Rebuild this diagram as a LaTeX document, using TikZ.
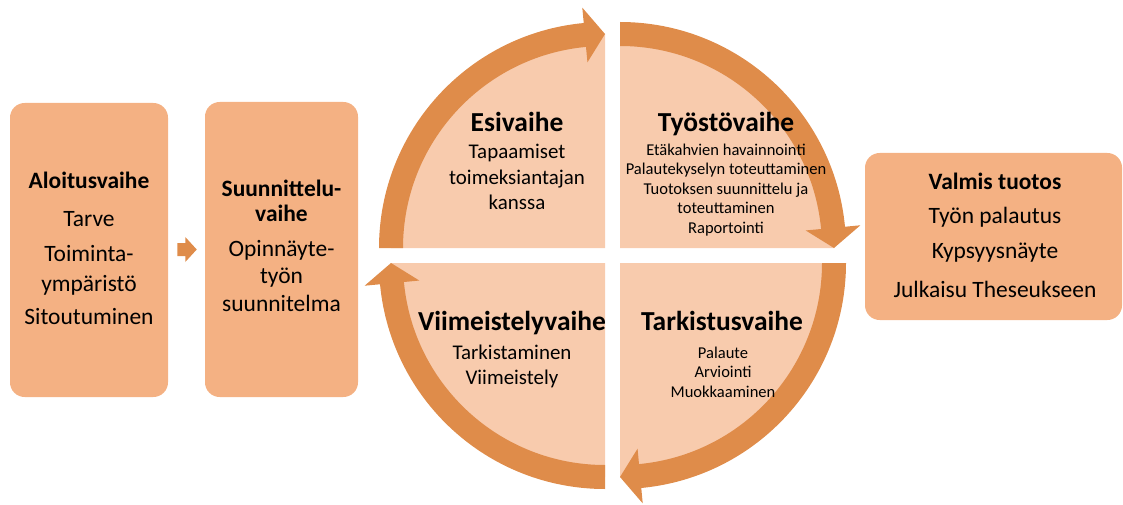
\documentclass[tikz,border=0pt]{standalone}
\usepackage{fontspec}
\setmainfont{Carlito}
\usetikzlibrary{calc}
\definecolor{bandc}{HTML}{DF8C4A}
\definecolor{wedgec}{HTML}{F8CBAD}
\definecolor{boxc}{HTML}{F4B183}
\newcommand\bandarrow[2]{%
  \pgfmathsetmacro\bandbase{#2-84.6}%
  \pgfmathsetmacro\bandtip{#2-90}%
  \fill[bandfill] ($(#1)+(#2:169.5pt)$) arc[start angle=#2, end angle=\bandbase, radius=169.5pt]
    -- ($(#1)+(\bandbase:181.1pt)$) -- ($(#1)+(\bandtip:160.5pt)$)
    -- ($(#1)+(\bandbase:139.9pt)$) -- ($(#1)+(\bandbase:151.5pt)$)
    arc[start angle=\bandbase, end angle=#2, radius=151.5pt] -- cycle;}
\begin{document}
\begin{tikzpicture}[x=0.75pt,y=0.75pt,
  bandfill/.style={fill=bandc},
  wedgefill/.style={fill=wedgec},
  phasebox/.style={fill=boxc, rounded corners=11pt, inner sep=0pt},
  boxtext/.style={anchor=base, align=center, inner sep=0pt, font=\fontsize{17.6}{22.5}\selectfont},
  qtitle/.style={anchor=base, inner sep=0pt, font=\bfseries\fontsize{20.6}{24}\selectfont},
  qbody/.style={anchor=base, align=center, inner sep=0pt, font=\fontsize{15.7}{18.75}\selectfont},
  qsmall/.style={anchor=base, align=center, inner sep=0pt, font=\fontsize{12.4}{14.6}\selectfont}]
\useasboundingbox (0,0) rectangle (1123,504);
% side boxes
\node[phasebox, minimum width=118.5pt, minimum height=220.5pt] (aloitus) at (89,254) {};
\node[phasebox, minimum width=114.75pt, minimum height=221.25pt] (suunn) at (281.5,254.5) {};
\node[phasebox, minimum width=192.75pt, minimum height=125.25pt] (valmis) at (993.5,267.5) {};
% (base anchor = baseline of the last line)
\node[boxtext] (aloitustxt) at (89,179.7) {\textbf{Aloitusvaihe}\\[5.8pt]Tarve\\[3.75pt]Toiminta-\\ympäristö\\[2pt]Sitoutuminen};
\node[boxtext, font=\fontsize{17.6}{20.25}\selectfont] (suunntxt) at (281.5,192.3) {\textbf{Suunnittelu-}\\[-1.5pt]\textbf{vaihe}\\[6pt]Opinnäyte-\\työn\\[1pt]suunnitelma};
\node[boxtext, font=\fontsize{17.6}{26}\selectfont] (valmistxt) at (995,207) {\textbf{Valmis tuotos}\\Työn palautus\\Kypsyysnäyte\\[3pt]Julkaisu Theseukseen};
% small arrow
\fill[bandfill] ($(aloitus.east)+(9,-6)$) -- ++(8,0) -- ++(0,-6) -- ($(suunn.west)+(-8,0)$)
  -- ($(aloitus.east)+(17,13)$) -- ++(0,-6) -- ++(-8,0) -- cycle;
% quadrant corners
\coordinate (qtl) at (605,256);
\coordinate (qtr) at (620,256);
\coordinate (qbl) at (605,241);
\coordinate (qbr) at (620,241);
% wedges
\fill[wedgefill] (qtl) -- ($(qtl)+(180:160.5pt)$) arc[start angle=180,end angle=90,radius=160.5pt] -- cycle;
\fill[wedgefill] (qtr) -- ($(qtr)+(90:160.5pt)$) arc[start angle=90,end angle=0,radius=160.5pt] -- cycle;
\fill[wedgefill] (qbr) -- ($(qbr)+(0:160.5pt)$) arc[start angle=0,end angle=-90,radius=160.5pt] -- cycle;
\fill[wedgefill] (qbl) -- ($(qbl)+(270:160.5pt)$) arc[start angle=270,end angle=180,radius=160.5pt] -- cycle;
% circular arrows
\bandarrow{qtl}{180}
\bandarrow{qtr}{90}
\bandarrow{qbr}{0}
\bandarrow{qbl}{270}
% quadrant texts
\node[qtitle] (esi) at (517,372.3) {Esivaihe};
\node[qbody] (esibody) at (517,295) {Tapaamiset\\toimeksiantajan\\kanssa};
\node[qtitle] (tyosto) at (726,372.3) {Työstövaihe};
\node[qsmall] (tyostobody) at (726,271) {Etäkahvien havainnointi\\Palautekyselyn toteuttaminen\\Tuotoksen suunnittelu ja\\toteuttaminen\\Raportointi};
\node[qtitle] (viim) at (512,174) {Viimeistelyvaihe};
\node[qbody] (viimbody) at (512,120) {Tarkistaminen\\Viimeistely};
\node[qtitle] (tark) at (722,174) {Tarkistusvaihe};
\node[qsmall] (tarkbody) at (723,107) {Palaute\\Arviointi\\Muokkaaminen};
\end{tikzpicture}
\end{document}
